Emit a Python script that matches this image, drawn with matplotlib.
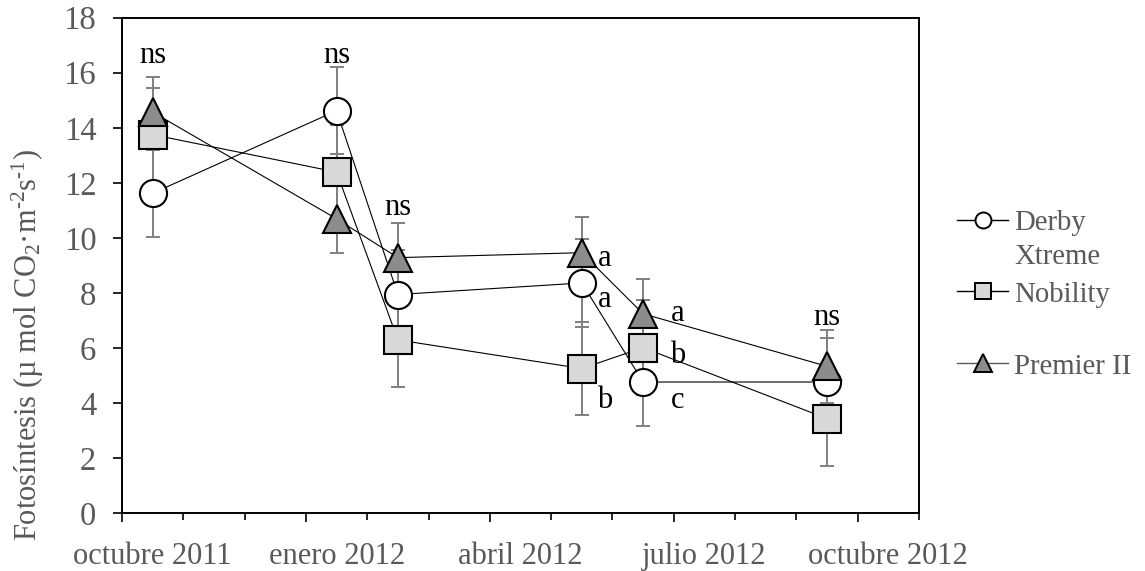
import matplotlib
matplotlib.use("Agg")
import matplotlib.pyplot as plt
from matplotlib.lines import Line2D

# ---------------- data ----------------
dates = ["2011-10", "2012-01", "2012-02", "2012-05", "2012-06", "2012-09"]
series_names = ["Derby Xtreme", "Nobility", "Premier II"]
derby = [11.62, 14.62, 7.94, 8.36, 4.76, 4.76]
derby_err = [1.59, 1.58, 1.60, 1.59, 1.60, 1.59]
nobility = [13.75, 12.39, 6.29, 5.25, 6.01, 3.43]
nobility_err = [1.71, 1.70, 1.72, 1.69, 1.73, 1.71]
premier = [14.57, 10.69, 9.28, 9.46, 7.24, 5.33]
premier_err = [1.26, 1.25, 1.27, 1.31, 1.28, 1.32]

axis_start = "2011-10"
axis_end = "2012-11"
label_months = ["2011-10", "2012-01", "2012-04", "2012-07", "2012-10"]
tick_labels = ["octubre 2011", "enero 2012", "abril 2012", "julio 2012", "octubre 2012"]
y_ticks = [0, 2, 4, 6, 8, 10, 12, 14, 16, 18]

# significance letters: (month, offset in months, y baseline, text)
sig_month = ["2011-10", "2012-01", "2012-02", "2012-05", "2012-05", "2012-05",
             "2012-06", "2012-06", "2012-06", "2012-09"]
sig_dx = [0, 0, 0, 0.38, 0.38, 0.38, 0.57, 0.57, 0.57, 0]
sig_y = [16.35, 16.35, 10.83, 8.99, 7.50, 3.80, 6.99, 5.44, 3.80, 6.83]
sig_text = ["ns", "ns", "ns", "a", "a", "b", "a", "b", "c", "ns"]


def month_index(s):
    y, m = s.split("-")
    y0, m0 = axis_start.split("-")
    return (int(y) - int(y0)) * 12 + int(m) - int(m0)


plt.rcParams['font.family'] = ['Liberation Serif', 'DejaVu Serif']
plt.rcParams['mathtext.fontset'] = 'custom'
plt.rcParams['mathtext.rm'] = 'Liberation Serif'
plt.rcParams['mathtext.it'] = 'Liberation Serif:italic'
plt.rcParams['mathtext.default'] = 'regular'

GRAY_TXT = '#595959'
W, H = 1145, 571
fig = plt.figure(figsize=(W / 100, H / 100), dpi=100)
L, R, T, B = 122, 919, 17.7, 513
ax = fig.add_axes([L / W, 1 - B / H, (R - L) / W, (B - T) / H])

x = [month_index(d) + 0.5 for d in dates]
n_months = month_index(axis_end)

vals = [derby, nobility, premier]
errs = [derby_err, nobility_err, premier_err]
styles = [
    dict(marker='o', markerfacecolor='white', markersize=19.5),
    dict(marker='s', markerfacecolor='#D9D9D9', markersize=20),
    dict(marker='^', markerfacecolor='#8C8C8C', markersize=20.5),
]

for v, e in zip(vals, errs):
    ax.errorbar(x, v, yerr=e, fmt='none', ecolor='#808080', elinewidth=1.4,
                capsize=4.8, capthick=1.4, zorder=2)
for i, (v, st) in enumerate(zip(vals, styles)):
    ax.plot(x, v, color='black', lw=0.8, markeredgecolor='black',
            markeredgewidth=1.5, zorder=3 + i, clip_on=False, **st)

for m, dx, yy, t in zip(sig_month, sig_dx, sig_y, sig_text):
    ax.text(month_index(m) + 0.5 + dx, yy, t, ha='center', va='baseline',
            fontsize=22, color='black', zorder=10)

ax.set_xlim(0, n_months)
ax.set_ylim(0, 18)
ax.set_yticks(y_ticks)
ax.set_yticklabels([str(t) for t in y_ticks])
ax.tick_params(axis='y', direction='out', length=6.5, width=1.2, labelsize=23.5,
               labelcolor=GRAY_TXT, pad=12)

major_b = [k for k in range(0, n_months + 1) if k % 3 == 0]
minor_b = [k for k in range(0, n_months + 1) if k % 3 != 0]
ax.set_xticks(major_b)
ax.set_xticklabels([])
ax.set_xticks(minor_b, minor=True)
ax.tick_params(axis='x', which='major', direction='out', length=6.8, width=1.2)
ax.tick_params(axis='x', which='minor', direction='out', length=5.0, width=1.2)

sec = ax.secondary_xaxis('bottom')
sec.set_xticks([month_index(m) + 0.5 for m in label_months])
sec.set_xticklabels(tick_labels)
sec.tick_params(length=0, labelsize=22, labelcolor=GRAY_TXT, pad=21)
sec.spines['bottom'].set_visible(False)

for sp in ax.spines.values():
    sp.set_linewidth(1.4)
    sp.set_color('black')

fig.text(28 / W, 1 - 345 / H,
         "Fotosíntesis (µ mol CO$_2$·m$^{\u2010 2}$s$^{\u2010 1}$)",
         rotation=90, ha='center', va='center', fontsize=22, color=GRAY_TXT)

# legend (drawn manually, outside plot)
leg_y = [220, 291, 363]
leg_ms = [11.5, 11.5, 12.5]
leg_line_color = ['black', 'black', '#595959']
line_step = 33.5
for name, st, py, ms, lc in zip(series_names, styles, leg_y, leg_ms, leg_line_color):
    fy = 1 - py / H
    st2 = dict(st)
    st2['markersize'] = ms
    ln = Line2D([957 / W, 983 / W, 1008 / W], [fy, fy, fy], transform=fig.transFigure,
                color=lc, lw=1.0, markeredgecolor='black', markeredgewidth=1.4,
                markevery=[1], **st2)
    fig.add_artist(ln)
    lines = name.split(" ") if name == "Derby Xtreme" else [name]
    for k, txt in enumerate(lines):
        fig.text(1014 / W, 1 - (py + 10.5 + k * line_step) / H, txt, ha='left',
                 va='baseline', fontsize=20.7, color=GRAY_TXT)

fig.savefig("out.png", dpi=100)
